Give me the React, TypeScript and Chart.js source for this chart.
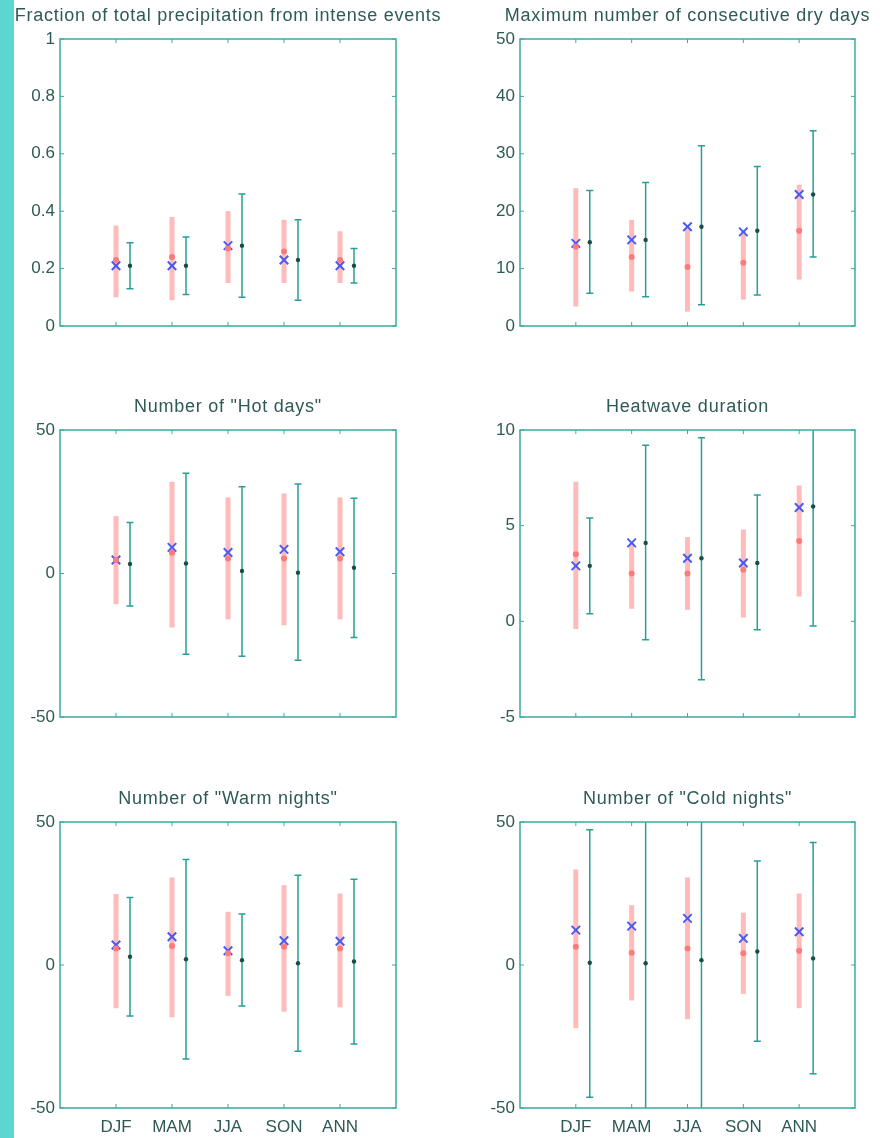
import React, { useEffect, useRef } from "react";
import { Chart, registerables } from "chart.js";

Chart.register(...registerables);

const seasons = ["DJF", "MAM", "JJA", "SON", "ANN"];

// Panel 1: Fraction of total precipitation from intense events
const fracRedLow = [0.1, 0.09, 0.15, 0.15, 0.15];
const fracRedMid = [0.23, 0.24, 0.27, 0.26, 0.23];
const fracRedHigh = [0.35, 0.38, 0.4, 0.37, 0.33];
const fracBlue = [0.21, 0.21, 0.28, 0.23, 0.21];
const fracTealLow = [0.13, 0.11, 0.1, 0.09, 0.15];
const fracTealMid = [0.21, 0.21, 0.28, 0.23, 0.21];
const fracTealHigh = [0.29, 0.31, 0.46, 0.37, 0.27];

// Panel 2: Maximum number of consecutive dry days
const dryRedLow = [3.4, 6.0, 2.5, 4.6, 8.1];
const dryRedMid = [13.8, 12.0, 10.3, 11.0, 16.6];
const dryRedHigh = [24.0, 18.5, 16.9, 16.7, 24.6];
const dryBlue = [14.4, 15.0, 17.3, 16.4, 22.9];
const dryTealLow = [5.7, 5.1, 3.7, 5.4, 12.0];
const dryTealMid = [14.6, 15.0, 17.3, 16.6, 22.9];
const dryTealHigh = [23.6, 25.0, 31.4, 27.8, 34.0];

// Panel 3: Number of "Hot days"
const hotRedLow = [-10.7, -18.8, -16.0, -18.0, -16.0];
const hotRedMid = [4.7, 7.2, 5.2, 5.2, 5.2];
const hotRedHigh = [20.0, 32.0, 26.5, 27.9, 26.5];
const hotBlue = [4.7, 9.1, 7.3, 8.4, 7.6];
const hotTealLow = [-11.3, -28.1, -28.8, -30.2, -22.3];
const hotTealMid = [3.3, 3.5, 0.9, 0.3, 2.0];
const hotTealHigh = [17.8, 34.9, 30.2, 31.2, 26.2];

// Panel 4: Heatwave duration
const heatRedLow = [-0.4, 0.66, 0.6, 0.2, 1.3];
const heatRedMid = [3.5, 2.5, 2.5, 2.7, 4.2];
const heatRedHigh = [7.3, 4.1, 4.4, 4.8, 7.1];
const heatBlue = [2.9, 4.1, 3.3, 3.05, 5.95];
const heatTealLow = [0.4, -0.96, -3.05, -0.44, -0.24];
const heatTealMid = [2.9, 4.1, 3.3, 3.05, 6.0];
const heatTealHigh = [5.4, 9.2, 9.6, 6.6, 10.3];

// Panel 5: Number of "Warm nights"
const warmRedLow = [-15.1, -18.3, -10.8, -16.3, -14.8];
const warmRedMid = [5.8, 6.6, 4.1, 6.4, 5.8];
const warmRedHigh = [24.8, 30.6, 18.6, 27.9, 25.0];
const warmBlue = [7.0, 9.9, 5.0, 8.5, 8.3];
const warmTealLow = [-17.8, -32.9, -14.3, -30.2, -27.6];
const warmTealMid = [2.9, 2.0, 1.7, 0.6, 1.2];
const warmTealHigh = [23.6, 36.9, 17.8, 31.4, 30.0];

// Panel 6: Number of "Cold nights"
const coldRedLow = [-22.1, -12.4, -19.0, -10.1, -15.1];
const coldRedMid = [6.4, 4.3, 5.8, 4.1, 5.0];
const coldRedHigh = [33.4, 20.9, 30.6, 18.3, 25.0];
const coldBlue = [12.2, 13.6, 16.3, 9.3, 11.6];
const coldTealLow = [-46.2, -58, -58, -26.7, -38.0];
const coldTealMid = [0.8, 0.6, 1.7, 4.7, 2.3];
const coldTealHigh = [47.3, 58, 58, 36.4, 42.8];

const TEXT = "#2e5a56";
const FRAME = "#3aaaa2";
const FONT_FAMILY = '"Liberation Sans", Arial, Helvetica, sans-serif';

type PanelDef = {
  title: string;
  yMin: number;
  yMax: number;
  yStep: number;
  redLow: number[];
  redMid: number[];
  redHigh: number[];
  blue: number[];
  tealLow: number[];
  tealMid: number[];
  tealHigh: number[];
  showX: boolean;
  box: { left: number; top: number; right: number; bottom: number; padR: number };
};

const panels: PanelDef[] = [
  {
    title: "Fraction of total precipitation from intense events",
    yMin: 0, yMax: 1, yStep: 0.2,
    redLow: fracRedLow, redMid: fracRedMid, redHigh: fracRedHigh, blue: fracBlue,
    tealLow: fracTealLow, tealMid: fracTealMid, tealHigh: fracTealHigh,
    showX: false,
    box: { left: 60, top: 39, right: 396, bottom: 326, padR: 50 },
  },
  {
    title: "Maximum number of consecutive dry days",
    yMin: 0, yMax: 50, yStep: 10,
    redLow: dryRedLow, redMid: dryRedMid, redHigh: dryRedHigh, blue: dryBlue,
    tealLow: dryTealLow, tealMid: dryTealMid, tealHigh: dryTealHigh,
    showX: false,
    box: { left: 520, top: 39, right: 855, bottom: 326, padR: 25 },
  },
  {
    title: 'Number of "Hot days"',
    yMin: -50, yMax: 50, yStep: 50,
    redLow: hotRedLow, redMid: hotRedMid, redHigh: hotRedHigh, blue: hotBlue,
    tealLow: hotTealLow, tealMid: hotTealMid, tealHigh: hotTealHigh,
    showX: false,
    box: { left: 60, top: 430, right: 396, bottom: 717, padR: 50 },
  },
  {
    title: "Heatwave duration",
    yMin: -5, yMax: 10, yStep: 5,
    redLow: heatRedLow, redMid: heatRedMid, redHigh: heatRedHigh, blue: heatBlue,
    tealLow: heatTealLow, tealMid: heatTealMid, tealHigh: heatTealHigh,
    showX: false,
    box: { left: 520, top: 430, right: 855, bottom: 717, padR: 25 },
  },
  {
    title: 'Number of "Warm nights"',
    yMin: -50, yMax: 50, yStep: 50,
    redLow: warmRedLow, redMid: warmRedMid, redHigh: warmRedHigh, blue: warmBlue,
    tealLow: warmTealLow, tealMid: warmTealMid, tealHigh: warmTealHigh,
    showX: true,
    box: { left: 60, top: 822, right: 396, bottom: 1108, padR: 50 },
  },
  {
    title: 'Number of "Cold nights"',
    yMin: -50, yMax: 50, yStep: 50,
    redLow: coldRedLow, redMid: coldRedMid, redHigh: coldRedHigh, blue: coldBlue,
    tealLow: coldTealLow, tealMid: coldTealMid, tealHigh: coldTealHigh,
    showX: true,
    box: { left: 520, top: 822, right: 855, bottom: 1108, padR: 25 },
  },
];

const PAD_L = 55;
const PAD_T = 45;
const PAD_B = 30;
const TEAL_OFFSET = 0.25;

function Panel({ def }: { def: PanelDef }) {
  const ref = useRef<HTMLCanvasElement | null>(null);
  const { box } = def;
  const width = box.right - box.left + PAD_L + box.padR;
  const height = box.bottom - box.top + PAD_T + PAD_B;

  useEffect(() => {
    if (!ref.current) return;

    const errorBars = {
      id: "errorBars",
      beforeDatasetsDraw(chart: any) {
        const { ctx, chartArea, scales } = chart;
        const xs = scales.x;
        const ys = scales.y;
        ctx.save();
        ctx.beginPath();
        ctx.rect(chartArea.left, chartArea.top, chartArea.right - chartArea.left, chartArea.bottom - chartArea.top);
        ctx.clip();
        def.redLow.forEach((lo, i) => {
          const x = xs.getPixelForValue(i + 1);
          ctx.strokeStyle = "#ffbaba";
          ctx.lineWidth = 5;
          ctx.lineCap = "butt";
          ctx.beginPath();
          ctx.moveTo(x, ys.getPixelForValue(lo));
          ctx.lineTo(x, ys.getPixelForValue(def.redHigh[i]));
          ctx.stroke();
        });
        def.tealLow.forEach((lo, i) => {
          const x = xs.getPixelForValue(i + 1 + TEAL_OFFSET);
          const y1 = ys.getPixelForValue(lo);
          const y2 = ys.getPixelForValue(def.tealHigh[i]);
          ctx.strokeStyle = "#2a9e96";
          ctx.lineWidth = 1.5;
          ctx.beginPath();
          ctx.moveTo(x, y1);
          ctx.lineTo(x, y2);
          ctx.moveTo(x - 3.5, y1);
          ctx.lineTo(x + 3.5, y1);
          ctx.moveTo(x - 3.5, y2);
          ctx.lineTo(x + 3.5, y2);
          ctx.stroke();
        });
        ctx.restore();
      },
    };

    const frame = {
      id: "frameBox",
      afterDraw(chart: any) {
        const { ctx, chartArea, scales } = chart;
        const { left, right, top, bottom } = chartArea;
        ctx.save();
        ctx.strokeStyle = FRAME;
        ctx.lineWidth = 1.5;
        ctx.strokeRect(left, top, right - left, bottom - top);
        ctx.lineWidth = 1;
        ctx.beginPath();
        for (let v = 1; v <= 5; v++) {
          const x = scales.x.getPixelForValue(v);
          ctx.moveTo(x, bottom);
          ctx.lineTo(x, bottom - 4);
          ctx.moveTo(x, top);
          ctx.lineTo(x, top + 4);
        }
        scales.y.ticks.forEach((t: any) => {
          const y = scales.y.getPixelForValue(t.value);
          ctx.moveTo(left, y);
          ctx.lineTo(left + 4, y);
          ctx.moveTo(right, y);
          ctx.lineTo(right - 4, y);
        });
        ctx.stroke();
        // title
        ctx.fillStyle = TEXT;
        ctx.font = `18px ${FONT_FAMILY}`;
        ctx.textAlign = "center";
        ctx.textBaseline = "middle";
        try {
          (ctx as any).letterSpacing = "0.75px";
        } catch (e) {}
        ctx.fillText(def.title, (left + right) / 2, top - 23);
        ctx.restore();
      },
    };

    const chart = new Chart(ref.current, {
      type: "scatter",
      data: {
        datasets: [
          {
            label: "red",
            data: def.redMid.map((y, i) => ({ x: i + 1, y })),
            pointRadius: 3,
            pointBackgroundColor: "#ff7a7a",
            pointBorderWidth: 0,
            showLine: false,
          },
          {
            label: "blue",
            data: def.blue.map((y, i) => ({ x: i + 1, y })),
            pointStyle: "crossRot",
            pointRadius: 6,
            pointBorderColor: "#4a5cf0",
            pointBorderWidth: 2,
            showLine: false,
          },
          {
            label: "teal",
            data: def.tealMid.map((y, i) => ({ x: i + 1 + TEAL_OFFSET, y })),
            pointRadius: 2.2,
            pointBackgroundColor: "#1c4c47",
            pointBorderWidth: 0,
            showLine: false,
          },
        ],
      },
      options: {
        animation: false,
        responsive: false,
        maintainAspectRatio: false,
        layout: { padding: { top: PAD_T, right: box.padR, left: 0, bottom: 0 } },
        plugins: {
          legend: { display: false },
          tooltip: { enabled: false },
          title: { display: false },
        },
        scales: {
          x: {
            type: "linear",
            min: 0,
            max: 6,
            grid: { display: false, drawTicks: false },
            border: { display: false },
            ticks: {
              stepSize: 1,
              autoSkip: false,
              maxRotation: 0,
              padding: 9,
              color: TEXT,
              font: { family: FONT_FAMILY, size: 17 },
              callback: (v: any) =>
                def.showX && v >= 1 && v <= 5 ? seasons[v - 1] : "",
            },
            afterFit: (s: any) => {
              s.height = PAD_B;
            },
          },
          y: {
            type: "linear",
            min: def.yMin,
            max: def.yMax,
            grid: { display: false, drawTicks: false },
            border: { display: false },
            ticks: {
              stepSize: def.yStep,
              padding: 5,
              color: TEXT,
              font: { family: FONT_FAMILY, size: 17 },
              callback: (v: any) => String(Number(Number(v).toFixed(3))),
            },
            afterFit: (s: any) => {
              s.width = PAD_L;
            },
          },
        },
      },
      plugins: [errorBars, frame],
    } as any);
    return () => chart.destroy();
  }, []);

  return (
    <canvas
      ref={ref}
      width={width}
      height={height}
      style={{
        position: "absolute",
        left: box.left - PAD_L,
        top: box.top - PAD_T,
        width,
        height,
      }}
    />
  );
}

export default function App() {
  return (
    <div
      style={{
        position: "absolute",
        left: 0,
        top: 0,
        width: 880,
        height: 1138,
        overflow: "hidden",
        background: "#ffffff",
      }}
    >
      <div
        style={{
          position: "absolute",
          left: 0,
          top: 0,
          width: 14,
          height: 1138,
          background: "#5dd5d0",
        }}
      />
      {panels.map((p, i) => (
        <Panel key={i} def={p} />
      ))}
    </div>
  );
}
